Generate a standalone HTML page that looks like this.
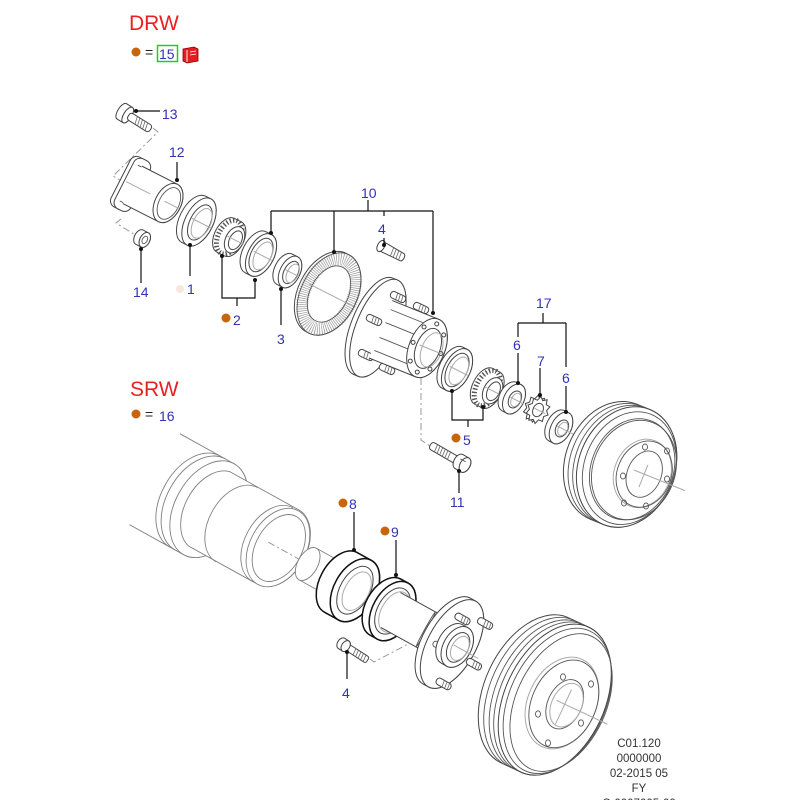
<!DOCTYPE html>
<html><head><meta charset="utf-8"><style>
html,body{margin:0;padding:0;background:#fff;}
svg{display:block;}
</style></head><body>
<svg width="800" height="800" viewBox="0 0 800 800" xmlns="http://www.w3.org/2000/svg">
<style>
.p{fill:#fff;stroke:#444;stroke-width:1}
.d{fill:#fff;stroke:#111;stroke-width:1.5}
.n{fill:none;stroke:#555;stroke-width:0.9}
.g{fill:none;stroke:#aaa;stroke-width:1}
.hp{fill:#fff;stroke:#808080;stroke-width:0.9}
.hn{fill:none;stroke:#808080;stroke-width:0.9}
.k{fill:none;stroke:#111;stroke-width:1.2}
.dash{fill:none;stroke:#999;stroke-width:1;stroke-dasharray:7 3 2 3}
.t{fill:#3232b4;font-size:14px;font-family:"Liberation Sans",Arial,sans-serif}
.th{stroke:#666;stroke-width:0.8}
.rl{fill:none;stroke:#555;stroke-width:5;stroke-dasharray:1.4 2}
</style>
<rect width="800" height="800" fill="#fff"/>

<!-- Header DRW -->
<text x="129" y="30" font-size="21" fill="#ea2020" font-family="Liberation Sans, Arial, sans-serif">DRW</text>
<circle cx="136" cy="52" r="4.5" fill="#c8640a"/>
<text x="145" y="57" font-size="14" fill="#222" font-family="Liberation Sans, Arial, sans-serif">=</text>
<rect x="157.5" y="45.5" width="20" height="16" fill="none" stroke="#22cc22" stroke-width="1.5"/>
<text x="159" y="59" class="t">15</text>
<g transform="translate(182,46)">
<path d="M1,3 L12,1 L16,3 L16,15 L5,17 L1,15Z" fill="#e02020" stroke="#800" stroke-width="0.8"/>
<line x1="5" y1="4" x2="5" y2="16" stroke="#fff" stroke-width="0.9"/>
<line x1="8" y1="6" x2="14" y2="5" stroke="#fff" stroke-width="0.8"/>
<line x1="8" y1="9" x2="14" y2="8" stroke="#fff" stroke-width="0.8"/>
</g>

<!-- Header SRW -->
<text x="130" y="396" font-size="21" fill="#ea2020" font-family="Liberation Sans, Arial, sans-serif">SRW</text>
<circle cx="136" cy="414" r="4.5" fill="#c8640a"/>
<text x="145" y="419" font-size="14" fill="#222" font-family="Liberation Sans, Arial, sans-serif">=</text>
<text x="159" y="421" class="t">16</text>

<!-- ================= DRW ================= -->
<polyline class="dash" points="153,128 158,132 113,176 120,180"/>
<polyline class="dash" points="121,219 116,223 137,236"/>

<!-- Bolt 13 -->
<g transform="translate(126,114) rotate(32)">
<path class="p" d="M-5,-9 H2 A4 9 0 0 1 2 9 H-5 A4 9 0 0 1 -5 -9Z"/>
<ellipse class="p" cx="2" cy="0" rx="4" ry="9"/>
<rect class="p" x="3" y="-4" width="26" height="8" rx="3"/>
<line class="th" x1="11" y1="-4" x2="13" y2="4"/><line class="th" x1="14" y1="-4" x2="16" y2="4"/>
<line class="th" x1="17" y1="-4" x2="19" y2="4"/><line class="th" x1="20" y1="-4" x2="22" y2="4"/>
<line class="th" x1="23" y1="-4" x2="25" y2="4"/>
</g>

<!-- Hub 12 -->
<g transform="translate(168,203) rotate(27)">
<rect class="p" x="-53" y="-28" width="20" height="56" rx="7" stroke="#333"/>
<rect class="p" x="-49" y="-28" width="18" height="56" rx="7" stroke="#333"/>
<line class="n" x1="-44" y1="-20" x2="-36" y2="-20"/>
<line class="n" x1="-44" y1="20" x2="-36" y2="20"/>
<path class="p" d="M-40,-21 H0 A13 21 0 0 1 0 21 H-40"/>
<ellipse class="p" cx="0" cy="0" rx="13" ry="21"/>
<ellipse class="n" cx="1" cy="0" rx="10" ry="17"/>
<line class="g" x1="-4" y1="0" x2="12" y2="0"/>
<line class="g" x1="-47" y1="0" x2="-20" y2="0"/>
</g>

<!-- Nut 14 -->
<g transform="translate(143,239) rotate(27)">
<path class="p" d="M-4,-8 H2 A5 8 0 0 1 2 8 H-4 A5 8 0 0 1 -4 -8Z"/>
<ellipse class="p" cx="2" cy="0" rx="5" ry="8"/>
<ellipse class="n" cx="2" cy="0" rx="2.5" ry="4"/>
</g>

<!-- Seal 1 -->
<g transform="translate(199,222) rotate(27)">
<path class="p" d="M-6,-26 H0 A14 26 0 0 1 0 26 H-6 A14 26 0 0 1 -6 -26Z"/>
<ellipse class="p" cx="0" cy="0" rx="14" ry="26" stroke="#222" stroke-width="1.2"/>
<ellipse class="p" cx="1" cy="0" rx="10" ry="19"/>
<ellipse class="g" cx="3" cy="0" rx="8.5" ry="16"/>
<line class="g" x1="-8" y1="0" x2="14" y2="0"/>
</g>

<!-- Cone 2 -->
<g transform="translate(231,238) rotate(27)">
<path class="p" d="M-6,-19 H2 A11 19 0 0 1 2 19 H-6 A11 19 0 0 1 -6 -19Z"/>
<ellipse class="rl" cx="-2" cy="0" rx="11" ry="18"/>
<ellipse class="p" cx="4" cy="0" rx="9" ry="14" stroke="#222"/>
<ellipse class="p" cx="5" cy="0" rx="6" ry="10"/>
<line class="g" x1="-4" y1="0" x2="14" y2="0"/>
</g>

<!-- Cup ring (10) -->
<g transform="translate(261,255) rotate(27)">
<path class="p" d="M-6,-23 H0 A13 23 0 0 1 0 23 H-6 A13 23 0 0 1 -6 -23Z"/>
<ellipse class="p" cx="0" cy="0" rx="13" ry="23" stroke="#222" stroke-width="1.2"/>
<ellipse class="p" cx="0" cy="0" rx="10" ry="18"/>
<ellipse class="g" cx="2" cy="0" rx="8" ry="15"/>
<line class="g" x1="-8" y1="0" x2="12" y2="0"/>
</g>

<!-- Seal 3 -->
<g transform="translate(290,272) rotate(27)">
<path class="p" d="M-6,-17 H0 A10 17 0 0 1 0 17 H-6 A10 17 0 0 1 -6 -17Z"/>
<ellipse class="p" cx="0" cy="0" rx="10" ry="17" stroke="#222" stroke-width="1.2"/>
<ellipse class="p" cx="1" cy="0" rx="7" ry="12"/>
<ellipse class="g" cx="3" cy="0" rx="5.5" ry="10"/>
<line class="g" x1="-6" y1="0" x2="10" y2="0"/>
</g>

<!-- Tone ring -->
<g transform="translate(329,294) rotate(27)">
<path class="p" d="M-3,-44 H0 A28 44 0 0 1 0 44 H-3 A28 44 0 0 1 -3 -44Z"/>
<ellipse cx="0" cy="0" rx="23.5" ry="37" fill="none" stroke="#9a9a9a" stroke-width="12" stroke-dasharray="0.7 1.4"/>
<ellipse class="n" cx="0" cy="0" rx="28" ry="44"/>
<ellipse class="n" cx="0" cy="0" rx="19" ry="30"/>
<line class="g" x1="-22" y1="0" x2="24" y2="0"/>
</g>

<!-- Stud 4 (top) -->
<g transform="translate(381,246) rotate(28)">
<path class="p" d="M0,-5 L24,-4 A2 4 0 0 1 24 4 L0,5Z"/>
<line class="th" x1="12" y1="-4.5" x2="13" y2="4.5"/><line class="th" x1="15" y1="-4.4" x2="16" y2="4.4"/>
<line class="th" x1="18" y1="-4.3" x2="19" y2="4.3"/><line class="th" x1="21" y1="-4.2" x2="22" y2="4.2"/>
<ellipse class="p" cx="0" cy="0" rx="3.5" ry="6"/>
</g>

<!-- DRW Hub -->
<g transform="translate(427,348) rotate(22)">
<path class="p" d="M-58,-52 H-53 A22 52 0 0 1 -53 52 H-58 A22 52 0 0 1 -58 -52Z"/>
<ellipse class="p" cx="-53" cy="0" rx="22" ry="52"/>
</g>
<g transform="translate(398,297) rotate(25)"><rect class="p" x="-8" y="-3.5" width="16" height="7" rx="3"/><line class="th" x1="-2" y1="-3.5" x2="-1" y2="3.5"/><line class="th" x1="1" y1="-3.5" x2="2" y2="3.5"/><line class="th" x1="4" y1="-3.5" x2="5" y2="3.5"/></g>
<g transform="translate(421,308) rotate(25)"><rect class="p" x="-8" y="-3.5" width="16" height="7" rx="3"/><line class="th" x1="-2" y1="-3.5" x2="-1" y2="3.5"/><line class="th" x1="1" y1="-3.5" x2="2" y2="3.5"/><line class="th" x1="4" y1="-3.5" x2="5" y2="3.5"/></g>
<g transform="translate(374,320) rotate(25)"><rect class="p" x="-8" y="-3.5" width="16" height="7" rx="3"/><line class="th" x1="-2" y1="-3.5" x2="-1" y2="3.5"/><line class="th" x1="1" y1="-3.5" x2="2" y2="3.5"/><line class="th" x1="4" y1="-3.5" x2="5" y2="3.5"/></g>
<g transform="translate(366,355) rotate(25)"><rect class="p" x="-8" y="-3.5" width="16" height="7" rx="3"/><line class="th" x1="-2" y1="-3.5" x2="-1" y2="3.5"/><line class="th" x1="1" y1="-3.5" x2="2" y2="3.5"/><line class="th" x1="4" y1="-3.5" x2="5" y2="3.5"/></g>
<g transform="translate(387,369) rotate(25)"><rect class="p" x="-8" y="-3.5" width="16" height="7" rx="3"/><line class="th" x1="-2" y1="-3.5" x2="-1" y2="3.5"/><line class="th" x1="1" y1="-3.5" x2="2" y2="3.5"/><line class="th" x1="4" y1="-3.5" x2="5" y2="3.5"/></g>
<g transform="translate(427,348) rotate(22)">
<path class="p" d="M-50,-31 H0 A18 31 0 0 1 0 31 H-50"/>
<line class="n" x1="-48" y1="-22" x2="-10" y2="-22"/>
<line class="n" x1="-48" y1="-8" x2="-16" y2="-8"/>
<line class="n" x1="-48" y1="8" x2="-16" y2="8"/>
<line class="n" x1="-48" y1="22" x2="-10" y2="22"/>
<ellipse class="p" cx="0" cy="0" rx="18" ry="31" stroke="#222"/>
<ellipse class="p" cx="1" cy="0" rx="12" ry="21"/>
<ellipse class="g" cx="5" cy="0" rx="10" ry="18"/>
<circle class="p" cx="15" cy="0" r="2"/><circle class="p" cx="10.6" cy="18.4" r="2"/>
<circle class="p" cx="0" cy="26" r="2"/><circle class="p" cx="-10.6" cy="18.4" r="2"/>
<circle class="p" cx="-15" cy="0" r="2"/><circle class="p" cx="-10.6" cy="-18.4" r="2"/>
<circle class="p" cx="0" cy="-26" r="2"/><circle class="p" cx="10.6" cy="-18.4" r="2"/>
<line class="g" x1="-8" y1="0" x2="16" y2="0"/>
</g>

<polyline class="dash" points="421,378 421,440 430,446"/>

<!-- Race 5 -->
<g transform="translate(457,370) rotate(27)">
<path class="p" d="M-5,-23 H0 A13 23 0 0 1 0 23 H-5 A13 23 0 0 1 -5 -23Z"/>
<ellipse class="p" cx="0" cy="0" rx="13" ry="23" stroke="#222" stroke-width="1.2"/>
<ellipse class="p" cx="0" cy="0" rx="10" ry="18"/>
<ellipse class="g" cx="2" cy="0" rx="8" ry="15"/>
<line class="g" x1="-8" y1="0" x2="12" y2="0"/>
</g>

<!-- Cone 5 -->
<g transform="translate(489,389) rotate(27)">
<path class="p" d="M-6,-20 H2 A11 20 0 0 1 2 20 H-6 A11 20 0 0 1 -6 -20Z"/>
<ellipse class="rl" cx="-2" cy="0" rx="11" ry="19"/>
<ellipse class="p" cx="4" cy="0" rx="9" ry="14" stroke="#222"/>
<ellipse class="p" cx="5" cy="0" rx="6" ry="10"/>
<line class="g" x1="-4" y1="0" x2="14" y2="0"/>
</g>

<!-- Nut 6 -->
<g transform="translate(514,399) rotate(27)">
<path class="p" d="M-5,-16 H0 A10 16 0 0 1 0 16 H-5 A10 16 0 0 1 -5 -16Z" stroke="#222" stroke-width="1.2"/>
<ellipse class="p" cx="0" cy="0" rx="10" ry="16" stroke="#222" stroke-width="1.2"/>
<ellipse class="p" cx="1" cy="0" rx="6" ry="9"/>
<ellipse class="g" cx="2" cy="0" rx="4.5" ry="7"/>
<line class="g" x1="-4" y1="0" x2="11" y2="0"/>
</g>

<!-- Washer 7 -->
<g transform="translate(538,410) rotate(27)">
<polygon class="p" transform="translate(-3,0)" points="11.2,0 8,3.2 9.1,8.2 4.9,8.5 3.5,13.3 0,10.5 -3.5,13.3 -4.9,8.5 -9.1,8.2 -8,3.2 -11.2,0 -8,-3.2 -9.1,-8.2 -4.9,-8.5 -3.5,-13.3 0,-10.5 3.5,-13.3 4.9,-8.5 9.1,-8.2 8,-3.2"/>
<polygon class="p" stroke="#222" points="11.2,0 8,3.2 9.1,8.2 4.9,8.5 3.5,13.3 0,10.5 -3.5,13.3 -4.9,8.5 -9.1,8.2 -8,3.2 -11.2,0 -8,-3.2 -9.1,-8.2 -4.9,-8.5 -3.5,-13.3 0,-10.5 3.5,-13.3 4.9,-8.5 9.1,-8.2 8,-3.2"/>
<ellipse class="p" cx="0" cy="0" rx="5" ry="7"/>
<line class="g" x1="-4" y1="0" x2="8" y2="0"/>
</g>

<!-- Nut 6b -->
<g transform="translate(561,428) rotate(27)">
<path class="p" d="M-5,-17 H0 A10 17 0 0 1 0 17 H-5 A10 17 0 0 1 -5 -17Z" stroke="#222" stroke-width="1.2"/>
<ellipse class="p" cx="0" cy="0" rx="10" ry="17" stroke="#222" stroke-width="1.2"/>
<ellipse class="p" cx="1" cy="0" rx="6" ry="9"/>
<ellipse class="g" cx="2" cy="0" rx="4.5" ry="7"/>
<line class="g" x1="-4" y1="0" x2="18" y2="0"/>
</g>

<!-- Bolt 11 -->
<g transform="translate(465,465) rotate(30)">
<rect class="p" x="-40" y="-4" width="34" height="8" rx="3"/>
<line class="th" x1="-34" y1="-4" x2="-33" y2="4"/><line class="th" x1="-31" y1="-4" x2="-30" y2="4"/>
<line class="th" x1="-28" y1="-4" x2="-27" y2="4"/><line class="th" x1="-25" y1="-4" x2="-24" y2="4"/>
<line class="th" x1="-22" y1="-4" x2="-21" y2="4"/><line class="th" x1="-19" y1="-4" x2="-18" y2="4"/>
<path class="p" d="M-7,-8 H0 A5 8 0 0 1 0 8 H-7 A5 8 0 0 1 -7 -8Z" stroke="#222"/>
<ellipse class="p" cx="0" cy="0" rx="5" ry="8" stroke="#222"/>
<line class="n" x1="-7" y1="-3" x2="-1" y2="-3"/>
</g>

<!-- DRW drum -->
<g transform="translate(634,470) rotate(22)">
<path class="p" d="M-22,-62 H-8 A48 62 0 0 1 -8 62 H-22 A48 62 0 0 1 -22 -62Z" stroke="#555"/>
<ellipse class="n" cx="-17" cy="0" rx="48" ry="62"/>
<ellipse class="n" cx="-12" cy="0" rx="48" ry="62"/>
<ellipse class="p" cx="-8" cy="0" rx="48" ry="62" stroke="#555"/>
<ellipse class="n" cx="-5" cy="0" rx="45" ry="58"/>
<ellipse class="n" cx="0" cy="0" rx="41" ry="51"/>
<ellipse class="n" cx="-2" cy="0" rx="41" ry="52"/>
<ellipse class="g" cx="9" cy="0" rx="28" ry="35"/>
<ellipse class="n" cx="11" cy="0" rx="27" ry="34"/>
<ellipse class="n" cx="11" cy="0" rx="17" ry="24"/>
<line class="g" x1="0" y1="0" x2="55" y2="0"/>
<line class="g" x1="11" y1="-10" x2="11" y2="14"/>
</g>
<ellipse class="n" cx="645" cy="447" rx="2.5" ry="3"/>
<ellipse class="n" cx="667" cy="451" rx="2.5" ry="3"/>
<ellipse class="n" cx="623" cy="476" rx="2.5" ry="3"/>
<ellipse class="n" cx="667" cy="479" rx="2.5" ry="3"/>
<ellipse class="n" cx="624" cy="503" rx="2.5" ry="3"/>
<ellipse class="n" cx="646" cy="506" rx="2.5" ry="3"/>

<!-- ================= SRW ================= -->
<g transform="translate(452,644) rotate(29)">
<!-- housing -->
<line stroke="#808080" stroke-width="0.9" x1="-340" y1="-52" x2="-294" y2="-52"/>
<line stroke="#808080" stroke-width="0.9" x1="-340" y1="52" x2="-294" y2="52"/>
<path class="hp" d="M-294,-52 H-278 A34 52 0 0 1 -278 52 H-294 A34 52 0 0 1 -294 -52Z"/>
<ellipse class="hp" cx="-278" cy="0" rx="34" ry="52"/>
<path class="hn" d="M-288,-52 A34 52 0 0 0 -288 52"/>
<path class="hp" d="M-278,-43 H-199 A28 42 0 0 1 -199 42 H-278 A28 43 0 0 1 -278 -43Z"/>
<path class="hn" d="M-246,-42.5 A28 42.5 0 0 0 -246 42.5"/>
<path class="hn" d="M-205,-42 A28 42 0 0 0 -205 42"/>
<ellipse class="hp" cx="-199" cy="0" rx="28" ry="42"/>
<ellipse class="hp" cx="-198" cy="0" rx="23" ry="36"/>
<line class="dash" x1="-210" y1="0" x2="-168" y2="0"/>
<!-- shaft -->
<path class="hp" d="M-165,-18 H-115 V18 H-165"/>
<ellipse class="hp" cx="-165" cy="0" rx="10" ry="18"/>
<!-- bearing 8 -->
<path class="d" d="M-127,-34 H-111 A21 34 0 0 1 -111 34 H-127 A21 34 0 0 1 -127 -34Z"/>
<ellipse class="d" cx="-111" cy="0" rx="21" ry="34"/>
<ellipse class="p" cx="-111" cy="0" rx="15" ry="26"/>
<ellipse class="g" cx="-109" cy="0" rx="12" ry="21"/>
<!-- seal 9 -->
<path class="d" d="M-76,-32 H-68 A20 32 0 0 1 -68 32 H-76 A20 32 0 0 1 -76 -32Z"/>
<ellipse class="d" cx="-68" cy="0" rx="20" ry="32"/>
<ellipse class="p" cx="-68" cy="0" rx="15" ry="25"/>
<ellipse class="g" cx="-66" cy="0" rx="13" ry="22"/>
<!-- neck -->
<path class="p" d="M-70,-20 H-5 V20 H-70"/>
<ellipse class="n" cx="-30" cy="0" rx="1" ry="20" stroke="#999"/>
<!-- flange -->
<path class="p" d="M-6,-49 H0 A24 49 0 0 1 0 49 H-6 A24 49 0 0 1 -6 -49Z"/>
<ellipse class="p" cx="0" cy="0" rx="24" ry="49"/>
<circle class="n" cx="-14" cy="8" r="3"/>
<!-- boss -->
<path class="p" d="M0,-22 H6 A14 22 0 0 1 6 22 H0 A14 22 0 0 1 0 -22Z"/>
<ellipse class="p" cx="6" cy="0" rx="14" ry="22"/>
<ellipse class="p" cx="7" cy="0" rx="10" ry="16"/>
<ellipse class="g" cx="9" cy="0" rx="8" ry="13"/>
<line class="g" x1="2" y1="0" x2="30" y2="0"/>
<!-- studs -->
<g transform="translate(-3,-27)"><rect class="p" x="-8" y="-3.5" width="16" height="7" rx="3"/><line class="th" x1="-1" y1="-3.5" x2="0" y2="3.5"/><line class="th" x1="2" y1="-3.5" x2="3" y2="3.5"/><line class="th" x1="5" y1="-3.5" x2="6" y2="3.5"/></g>
<g transform="translate(19,-34)"><rect class="p" x="-8" y="-3.5" width="16" height="7" rx="3"/><line class="th" x1="-1" y1="-3.5" x2="0" y2="3.5"/><line class="th" x1="2" y1="-3.5" x2="3" y2="3.5"/><line class="th" x1="5" y1="-3.5" x2="6" y2="3.5"/></g>
<g transform="translate(29,7)"><rect class="p" x="-8" y="-3.5" width="16" height="7" rx="3"/><line class="th" x1="-1" y1="-3.5" x2="0" y2="3.5"/><line class="th" x1="2" y1="-3.5" x2="3" y2="3.5"/><line class="th" x1="5" y1="-3.5" x2="6" y2="3.5"/></g>
<g transform="translate(12,39)"><rect class="p" x="-8" y="-3.5" width="16" height="7" rx="3"/><line class="th" x1="-1" y1="-3.5" x2="0" y2="3.5"/><line class="th" x1="2" y1="-3.5" x2="3" y2="3.5"/><line class="th" x1="5" y1="-3.5" x2="6" y2="3.5"/></g>
</g>

<!-- Bolt 4 (SRW) -->
<polyline class="dash" points="370,659 374,662 410,643"/>
<g transform="translate(344,645) rotate(33)">
<path class="p" d="M-3,-6 H2 A4 6 0 0 1 2 6 H-3 A4 6 0 0 1 -3 -6Z"/>
<rect class="p" x="2" y="-3.5" width="26" height="7" rx="2"/>
<line class="th" x1="12" y1="-3.5" x2="13" y2="3.5"/><line class="th" x1="15" y1="-3.5" x2="16" y2="3.5"/>
<line class="th" x1="18" y1="-3.5" x2="19" y2="3.5"/><line class="th" x1="21" y1="-3.5" x2="22" y2="3.5"/>
<line class="th" x1="24" y1="-3.5" x2="25" y2="3.5"/>
<ellipse class="p" cx="2" cy="0" rx="4" ry="6"/>
</g>

<!-- SRW drum -->
<g transform="translate(562,703) rotate(25)">
<path class="p" d="M-30,-80 H-8 A50 80 0 0 1 -8 80 H-30 A50 80 0 0 1 -30 -80Z" stroke="#555"/>
<ellipse class="n" cx="-24" cy="0" rx="50" ry="80"/>
<ellipse class="n" cx="-18" cy="0" rx="50" ry="80"/>
<ellipse class="n" cx="-13" cy="0" rx="50" ry="80"/>
<ellipse class="p" cx="-8" cy="0" rx="50" ry="80" stroke="#555"/>
<ellipse class="n" cx="-5" cy="0" rx="48" ry="77"/>
<ellipse class="n" cx="-1" cy="0" rx="45" ry="73"/>
<ellipse class="g" cx="0" cy="0" rx="34" ry="48"/>
<ellipse class="n" cx="2" cy="0" rx="32" ry="46"/>
<ellipse class="n" cx="3" cy="0" rx="17" ry="26"/>
<ellipse class="g" cx="5" cy="0" rx="15" ry="23"/>
<line class="g" x1="-6" y1="0" x2="50" y2="0"/>
<line class="g" x1="3" y1="-16" x2="3" y2="22"/>
</g>
<ellipse class="n" cx="563" cy="677" rx="2.5" ry="3.2"/>
<ellipse class="n" cx="591" cy="684" rx="2.5" ry="3.2"/>
<ellipse class="n" cx="538" cy="714" rx="2.5" ry="3.2"/>
<ellipse class="n" cx="581" cy="723" rx="2.5" ry="3.2"/>
<ellipse class="n" cx="548" cy="743" rx="2.5" ry="3.2"/>

<!-- ================= Leaders ================= -->
<g fill="#111">
<line class="k" x1="136" y1="111" x2="160" y2="111"/><circle cx="136" cy="111" r="2"/>
<line class="k" x1="177" y1="162" x2="177" y2="180"/><circle cx="177" cy="180" r="2"/>
<line class="k" x1="141" y1="249" x2="141" y2="283"/><circle cx="141" cy="249" r="2"/>
<line class="k" x1="190" y1="245" x2="190" y2="276"/><circle cx="190" cy="245" r="2"/>
<polyline class="k" points="222,256 222,298 255,298 255,280"/><line class="k" x1="237" y1="298" x2="237" y2="306"/>
<circle cx="222" cy="256" r="2"/><circle cx="255" cy="280" r="2"/>
<line class="k" x1="281" y1="289" x2="281" y2="325"/><circle cx="281" cy="289" r="2"/>
<line class="k" x1="271" y1="211" x2="433" y2="211"/>
<line class="k" x1="271" y1="211" x2="271" y2="233"/><circle cx="271" cy="233" r="2"/>
<line class="k" x1="334" y1="211" x2="334" y2="252"/><circle cx="334" cy="252" r="2"/>
<line class="k" x1="433" y1="211" x2="433" y2="313"/><circle cx="433" cy="313" r="2"/>
<line class="k" x1="368" y1="200" x2="368" y2="211"/>
<line class="k" x1="384" y1="211" x2="384" y2="216"/>
<line class="k" x1="384" y1="238" x2="384" y2="245"/><circle cx="384" cy="245" r="2"/>
<line class="k" x1="518" y1="323" x2="566" y2="323"/>
<line class="k" x1="543" y1="313" x2="543" y2="323"/>
<line class="k" x1="518" y1="323" x2="518" y2="337"/>
<line class="k" x1="566" y1="323" x2="566" y2="367"/>
<line class="k" x1="518" y1="353" x2="518" y2="383"/><circle cx="518" cy="383" r="2"/>
<line class="k" x1="540" y1="368" x2="540" y2="395"/><circle cx="540" cy="395" r="2"/>
<line class="k" x1="566" y1="386" x2="566" y2="412"/><circle cx="566" cy="412" r="2"/>
<polyline class="k" points="452,391 452,420 483,420 483,407"/><line class="k" x1="468" y1="420" x2="468" y2="427"/>
<circle cx="452" cy="391" r="2"/><circle cx="483" cy="407" r="2"/>
<line class="k" x1="459" y1="471" x2="459" y2="493"/><circle cx="459" cy="471" r="2"/>
<line class="k" x1="354" y1="512" x2="354" y2="550"/><circle cx="354" cy="550" r="2"/>
<line class="k" x1="396" y1="540" x2="396" y2="575"/><circle cx="396" cy="575" r="2"/>
<line class="k" x1="347" y1="652" x2="347" y2="679"/><circle cx="347" cy="652" r="2"/>
</g>

<!-- ================= Labels ================= -->
<text x="162" y="119" class="t">13</text>
<text x="169" y="157" class="t">12</text>
<text x="361" y="198" class="t">10</text>
<text x="378" y="234" class="t">4</text>
<text x="133" y="297" class="t">14</text>
<circle cx="180" cy="289" r="4" fill="#f6e8de"/>
<text x="187" y="294" class="t">1</text>
<circle cx="226" cy="318" r="4.5" fill="#c8640a"/>
<text x="233" y="325" class="t">2</text>
<text x="277" y="344" class="t">3</text>
<text x="536" y="308" class="t">17</text>
<text x="513" y="350" class="t">6</text>
<text x="537" y="366" class="t">7</text>
<text x="562" y="383" class="t">6</text>
<circle cx="456" cy="438" r="4.5" fill="#c8640a"/>
<text x="463" y="445" class="t">5</text>
<text x="450" y="507" class="t">11</text>
<circle cx="343" cy="503" r="4.5" fill="#c8640a"/>
<text x="349" y="509" class="t">8</text>
<circle cx="385" cy="531" r="4.5" fill="#c8640a"/>
<text x="391" y="537" class="t">9</text>
<text x="342" y="698" class="t">4</text>

<!-- Footer -->
<g font-family="Liberation Sans, Arial, sans-serif" font-size="11.5" fill="#333" text-anchor="middle">
<text x="639" y="747">C01.120</text>
<text x="639" y="762">0000000</text>
<text x="639" y="777">02-2015 05</text>
<text x="639" y="792">FY</text>
<text x="639" y="807">C-0007005-00</text>
</g>
</svg>
</body></html>
